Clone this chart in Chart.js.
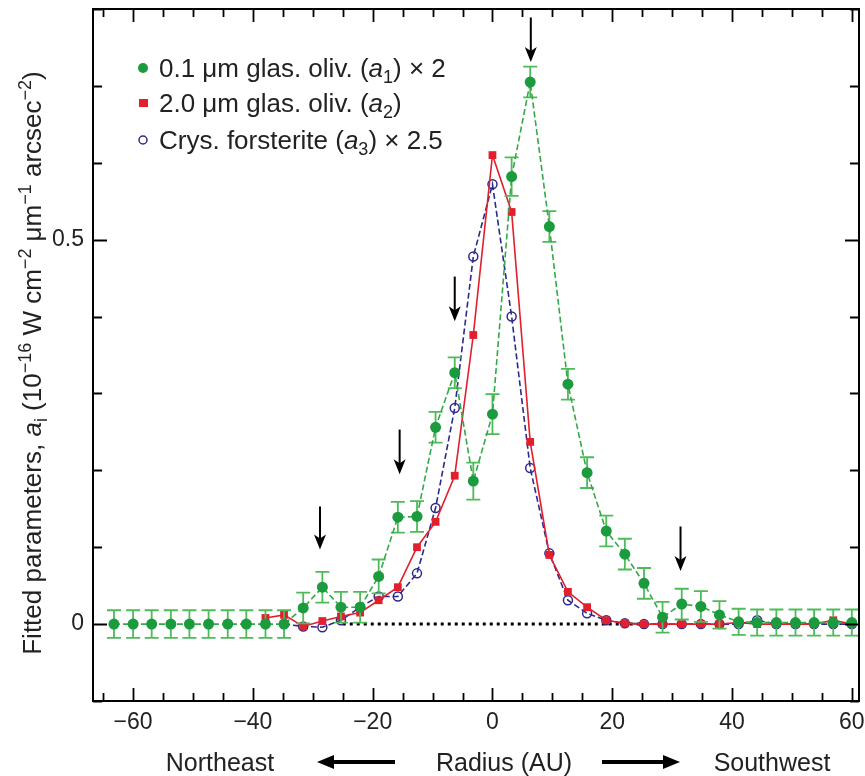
<!DOCTYPE html>
<html>
<head>
<meta charset="utf-8">
<script src="https://cdn.jsdelivr.net/npm/chart.js@4.4.0/dist/chart.umd.min.js"></script>
<style>
html, body { margin: 0; padding: 0; background: #fff; }
#wrap { width: 865px; height: 776px; }
</style>
</head>
<body>
<div id="wrap"><canvas id="c" width="865" height="776"></canvas></div>
<script>
// radius of every fitted point (AU), same grid for all three curves
var radius = [-63.2, -60.0, -56.9, -53.7, -50.6, -47.4, -44.2, -41.1, -37.9, -34.8,
              -31.6, -28.4, -25.3, -22.1, -19.0, -15.8, -12.6, -9.5, -6.3, -3.2,
              0.0, 3.2, 6.3, 9.5, 12.6, 15.8, 19.0, 22.1, 25.3, 28.4,
              31.6, 34.8, 37.9, 41.1, 44.2, 47.4, 50.6, 53.7, 56.9, 60.0];

// 0.1 um glassy olivine (a1) x 2
var smallOlivine = [0, 0, 0, 0, 0, 0, 0, 0, 0, 0,
                    0.021, 0.048, 0.022, 0.022, 0.062, 0.139, 0.140, 0.256, 0.327, 0.186,
                    0.273, 0.582, 0.705, 0.517, 0.312, 0.197, 0.121, 0.091, 0.053, 0.009,
                    0.026, 0.023, 0.012, 0.003, 0.002, 0.002, 0.002, 0.002, 0.002, 0.002];
var smallOlivineErr = [0.018, 0.018, 0.018, 0.018, 0.018, 0.018, 0.018, 0.018, 0.018, 0.018,
                       0.02, 0.02, 0.02, 0.02, 0.022, 0.02, 0.02, 0.02, 0.02, 0.024,
                       0.026, 0.025, 0.02, 0.02, 0.02, 0.02, 0.02, 0.02, 0.02, 0.02,
                       0.02, 0.02, 0.018, 0.017, 0.017, 0.017, 0.017, 0.017, 0.017, 0.017];

// 2.0 um glassy olivine (a2)
var largeOlivine = [null, null, null, null, null, null, null, null, 0.008, 0.012,
                    -0.003, 0.004, 0.010, 0.015, 0.031, 0.048, 0.100, 0.133, 0.193, 0.376,
                    0.610, 0.536, 0.237, 0.090, 0.042, 0.022, 0.005, 0.001, 0, 0,
                    0, 0, 0, 0.002, 0, 0, 0, 0, 0.005, 0];

// crystalline forsterite (a3) x 2.5
var forsterite = [null, null, null, null, null, null, null, null, null, 0,
                  -0.003, -0.004, 0.005, 0.022, 0.036, 0.036, 0.066, 0.151, 0.281, 0.478,
                  0.572, 0.400, 0.203, 0.092, 0.031, 0.014, 0.005, 0.001, 0, 0,
                  0, 0, 0, 0, 0.005, 0, 0, 0, 0, 0];

var xTickValues = [-65, -60, -55, -50, -45, -40, -35, -30, -25, -20, -15, -10, -5, 0,
                   5, 10, 15, 20, 25, 30, 35, 40, 45, 50, 55, 60];
var xLabelValues = [-60, -40, -20, 0, 20, 40, 60];
var yTickValues = [-0.1, 0, 0.1, 0.2, 0.3, 0.4, 0.5, 0.6, 0.7, 0.8];
var yLabelValues = [0, 0.5];

// arrows marking the rings
var arrowX = [-28.8, -15.5, -6.3, 6.4, 31.4];
var arrowTop = [0.153, 0.253, 0.452, 0.789, 0.127];
var arrowTip = [0.097, 0.195, 0.394, 0.731, 0.069];

// dotted zero line
var zeroLineX = [-25, 25];

var FONT = '"Liberation Sans", Arial, Helvetica, sans-serif';
var GREEN = '#1b9a3e', GREEN_LINE = '#35a94a', GREEN_ERR = '#4dbb58';
var RED = '#e21f2d', BLUE = '#2c2a8c';

function inList(v, list) {
  for (var i = 0; i < list.length; i++) if (Math.abs(v - list[i]) < 1e-6) return true;
  return false;
}
function toPoints(arr) {
  return radius.map(function (r, i) { return { x: r, y: arr[i] }; });
}
function fmt(v) {
  var s = String(Math.round(Math.abs(v) * 100) / 100);
  return v < 0 ? '\u2212' + s : s;
}

// rich text: parts = [[text, kind]] kind '' normal, 'i' italic, 'b' subscript, 'p' superscript
function partFont(kind, size) {
  var s = (kind == 'b' || kind == 'p') ? Math.round(size * 0.68) : size;
  return (kind == 'i' ? 'italic ' : '') + s + 'px ' + FONT;
}
function richWidth(ctx, parts, size) {
  var w = 0;
  parts.forEach(function (p) { ctx.font = partFont(p[1], size); w += ctx.measureText(p[0]).width; });
  return w;
}
function drawRich(ctx, parts, x, y, size) {
  ctx.textAlign = 'left';
  ctx.textBaseline = 'alphabetic';
  parts.forEach(function (p) {
    ctx.font = partFont(p[1], size);
    var dy = p[1] == 'b' ? size * 0.22 : (p[1] == 'p' ? -size * 0.4 : 0);
    ctx.fillText(p[0], x, y + dy);
    x += ctx.measureText(p[0]).width;
  });
}

//green error bars, drawn just under the green markers
var errorBars = {
  id: 'errorBars',
  beforeDatasetDraw: function (chart, args) {
    if (args.index !== 0) return;
    var xs = chart.scales.x, ys = chart.scales.y, ctx = chart.ctx;
    ctx.save();
    ctx.strokeStyle = GREEN_ERR;
    ctx.lineWidth = 1.8;
    for (var i = 0; i < radius.length; i++) {
      var px = xs.getPixelForValue(radius[i]);
      var top = ys.getPixelForValue(smallOlivine[i] + smallOlivineErr[i]);
      var bot = ys.getPixelForValue(smallOlivine[i] - smallOlivineErr[i]);
      ctx.beginPath();
      ctx.moveTo(px, top); ctx.lineTo(px, bot);
      ctx.moveTo(px - 7, top); ctx.lineTo(px + 7, top);
      ctx.moveTo(px - 7, bot); ctx.lineTo(px + 7, bot);
      ctx.stroke();
    }
    ctx.restore();
  }
};

//frame, inward ticks, arrows, legend and axis titles
var decorations = {
  id: 'decorations',
  afterDraw: function (chart) {
    var a = chart.chartArea, ctx = chart.ctx, xs = chart.scales.x, ys = chart.scales.y;
    ctx.save();
    ctx.strokeStyle = '#000';
    ctx.lineWidth = 2;
    ctx.strokeRect(a.left, a.top, a.right - a.left, a.bottom - a.top);

    ctx.lineWidth = 1.8;
    ctx.beginPath();
    xs.ticks.forEach(function (t) {
      var px = Math.round(xs.getPixelForValue(t.value)) + 0.5;
      var len = inList(t.value, xLabelValues) ? 13 : 8;
      ctx.moveTo(px, a.bottom); ctx.lineTo(px, a.bottom - len);
      ctx.moveTo(px, a.top); ctx.lineTo(px, a.top + len);
    });
    ys.ticks.forEach(function (t) {
      var py = Math.round(ys.getPixelForValue(t.value)) + 0.5;
      var len = inList(t.value, yLabelValues) ? 14 : 9;
      ctx.moveTo(a.left, py); ctx.lineTo(a.left + len, py);
      ctx.moveTo(a.right, py); ctx.lineTo(a.right - len, py);
    });
    ctx.stroke();

    // arrows
    ctx.fillStyle = '#000';
    for (var i = 0; i < arrowX.length; i++) {
      var ax = xs.getPixelForValue(arrowX[i]);
      var y0 = ys.getPixelForValue(arrowTop[i]);
      var y1 = ys.getPixelForValue(arrowTip[i]);
      ctx.lineWidth = 2;
      ctx.beginPath();
      ctx.moveTo(ax, y0); ctx.lineTo(ax, y1 - 10);
      ctx.stroke();
      ctx.beginPath();
      ctx.moveTo(ax - 6, y1 - 15);
      ctx.lineTo(ax, y1 - 11);
      ctx.lineTo(ax + 6, y1 - 15);
      ctx.lineTo(ax, y1);
      ctx.closePath();
      ctx.fill();
    }

    // legend
    var rows = [
      { y: 68, mark: 'dot', parts: [['0.1 \u03bcm glas. oliv. (', ''], ['a', 'i'], ['1', 'b'], [') \u00d7 2', '']] },
      { y: 103, mark: 'sq', parts: [['2.0 \u03bcm glas. oliv. (', ''], ['a', 'i'], ['2', 'b'], [')', '']] },
      { y: 140, mark: 'ring', parts: [['Crys. forsterite (', ''], ['a', 'i'], ['3', 'b'], [') \u00d7 2.5', '']] }
    ];
    rows.forEach(function (r) {
      if (r.mark == 'dot') {
        ctx.fillStyle = GREEN;
        ctx.beginPath(); ctx.arc(143, r.y, 5, 0, Math.PI * 2); ctx.fill();
      } else if (r.mark == 'sq') {
        ctx.fillStyle = RED;
        ctx.fillRect(139, r.y - 4, 9, 8);
      } else {
        ctx.strokeStyle = BLUE; ctx.lineWidth = 1.5;
        ctx.beginPath(); ctx.arc(143, r.y, 4, 0, Math.PI * 2); ctx.stroke();
      }
      ctx.fillStyle = '#222';
      drawRich(ctx, r.parts, 159, r.y + 9, 26);
    });

    // y title
    var yTitle = [['Fitted parameters, ', ''], ['a', 'i'], ['i', 'b'], [' (10', ''], ['\u221216', 'p'],
                  [' W cm', ''], ['\u22122', 'p'], [' \u03bcm', ''], ['\u22121', 'p'],
                  [' arcsec', ''], ['\u22122', 'p'], [')', '']];
    ctx.save();
    ctx.translate(41, 363);
    ctx.rotate(-Math.PI / 2);
    ctx.fillStyle = '#222';
    var w = richWidth(ctx, yTitle, 26);
    drawRich(ctx, yTitle, -w / 2, 0, 26);
    ctx.restore();

    // bottom title with direction arrows
    ctx.fillStyle = '#222';
    ctx.font = '25px ' + FONT;
    ctx.textBaseline = 'alphabetic';
    ctx.textAlign = 'center';
    ctx.fillText('Northeast', 220, 771);
    ctx.fillText('Radius (AU)', 504, 771);
    ctx.fillText('Southwest', 772, 771);
    ctx.fillStyle = '#000';
    ctx.fillRect(330, 760, 65, 4);
    ctx.beginPath(); ctx.moveTo(317, 762); ctx.lineTo(334, 755); ctx.lineTo(334, 769); ctx.closePath(); ctx.fill();
    ctx.fillRect(602, 760, 65, 4);
    ctx.beginPath(); ctx.moveTo(680, 762); ctx.lineTo(663, 755); ctx.lineTo(663, 769); ctx.closePath(); ctx.fill();
    ctx.restore();
  }
};

new Chart(document.getElementById('c'), {
  type: 'scatter',
  data: {
    datasets: [
      {
        data: toPoints(smallOlivine), showLine: true,
        borderColor: GREEN_LINE, borderWidth: 1.6, borderDash: [6, 3],
        pointStyle: 'circle', pointRadius: 5.5, pointBackgroundColor: GREEN, pointBorderWidth: 0
      },
      {
        data: toPoints(largeOlivine), showLine: true, spanGaps: false,
        borderColor: RED, borderWidth: 1.6,
        pointStyle: 'rect', pointRadius: 5.5, pointBackgroundColor: RED, pointBorderWidth: 0
      },
      {
        data: toPoints(forsterite), showLine: true, spanGaps: false,
        borderColor: BLUE, borderWidth: 1.6, borderDash: [6, 3],
        pointStyle: 'circle', pointRadius: 4.5, pointBackgroundColor: 'rgba(255,255,255,0)',
        pointBorderColor: BLUE, pointBorderWidth: 1.5
      },
      {
        data: zeroLineX.map(function (v) { return { x: v, y: 0 }; }), showLine: true,
        borderColor: '#000', borderWidth: 3, borderDash: [3, 4], pointRadius: 0
      }
    ]
  },
  options: {
    responsive: false,
    devicePixelRatio: 1,
    animation: false,
    layout: { padding: { top: 9, right: 2, left: 0, bottom: 0 } },
    plugins: { legend: { display: false }, tooltip: { enabled: false } },
    scales: {
      x: {
        type: 'linear', min: -66.7, max: 61.2,
        grid: { display: false, drawTicks: false },
        border: { display: false },
        afterBuildTicks: function (s) { s.ticks = xTickValues.map(function (v) { return { value: v }; }); },
        afterFit: function (s) { s.height = 75; s.paddingLeft = 0; s.paddingRight = 0; },
        ticks: {
          autoSkip: false, maxRotation: 0, padding: 8, color: '#222',
          font: { family: FONT, size: 23 },
          callback: function (v) { return inList(v, xLabelValues) ? fmt(v) : ''; }
        }
      },
      y: {
        type: 'linear', min: -0.1, max: 0.8,
        grid: { display: false, drawTicks: false },
        border: { display: false },
        afterBuildTicks: function (s) { s.ticks = yTickValues.map(function (v) { return { value: v }; }); },
        afterFit: function (s) { s.width = 93; s.paddingTop = 0; s.paddingBottom = 0; },
        ticks: {
          autoSkip: false, padding: 9, color: '#222',
          font: { family: FONT, size: 23 },
          callback: function (v) { return inList(v, yLabelValues) ? fmt(v) : ''; }
        }
      }
    }
  },
  plugins: [errorBars, decorations]
});
</script>
</body>
</html>
